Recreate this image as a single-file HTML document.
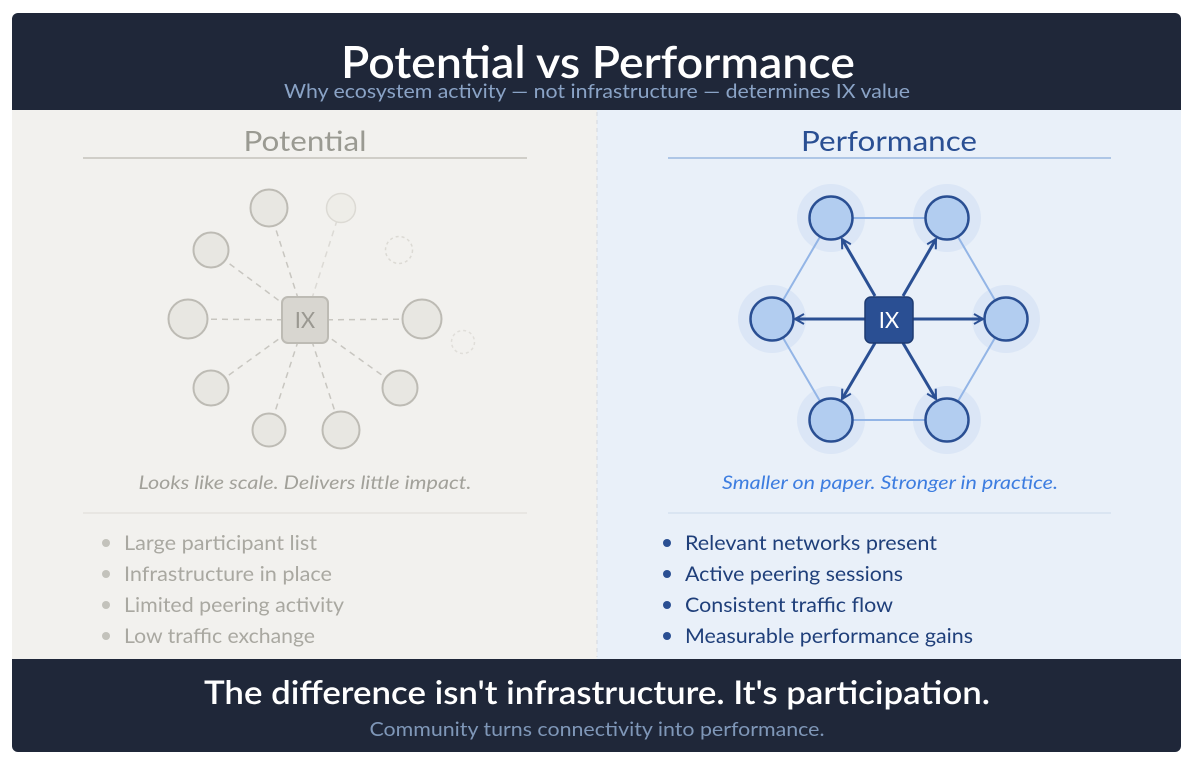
<!DOCTYPE html>
<html><head><meta charset="utf-8"><style>
html,body{margin:0;padding:0;background:#fff;}
svg{display:block;font-family:"Lato","Liberation Sans",sans-serif;}
</style></head><body>
<svg width="1200" height="769" viewBox="0 0 1200 769" xmlns="http://www.w3.org/2000/svg">
<defs>
<clipPath id="fr"><rect x="12" y="13" width="1169" height="739" rx="6"/></clipPath>
<marker id="ar" viewBox="0 0 12 12" refX="10" refY="6" markerWidth="12" markerHeight="12" markerUnits="userSpaceOnUse" orient="auto"><path d="M1,1 L10,6 L1,11" fill="none" stroke="#2a4f93" stroke-width="2"/></marker>
</defs>
<g clip-path="url(#fr)">
<rect x="12" y="13" width="1169" height="739" fill="#1f2739"/>
<rect x="12" y="110" width="585" height="549" fill="#f2f1ee"/>
<rect x="597" y="110" width="584" height="549" fill="#e9f0f9"/>
</g>
<line x1="597" y1="112" x2="597" y2="657" stroke="#d4d8de" stroke-dasharray="4,4"/>
<text x="598" y="78" text-anchor="middle" font-size="44" font-weight="600" fill="#fff" textLength="514" lengthAdjust="spacingAndGlyphs">Potential vs Performance</text>
<text x="597" y="98" text-anchor="middle" font-size="19" fill="#8aa3c6" textLength="626" lengthAdjust="spacingAndGlyphs">Why ecosystem activity — not infrastructure — determines IX value</text>

<text x="305" y="151" text-anchor="middle" font-size="28" fill="#9a9a92" textLength="123" lengthAdjust="spacingAndGlyphs">Potential</text>
<line x1="83" y1="158" x2="527" y2="158" stroke="#c4c2bb" stroke-width="1.5"/>
<text x="889" y="151" text-anchor="middle" font-size="28" fill="#2a4f93" textLength="176" lengthAdjust="spacingAndGlyphs">Performance</text>
<line x1="668" y1="158" x2="1111" y2="158" stroke="#9bb7e0" stroke-width="1.5"/>

<g stroke="#c8c6c0" stroke-width="1.5" stroke-dasharray="6,5" fill="none">
<line x1="305" y1="320" x2="269" y2="208"/>
<line x1="305" y1="320" x2="341" y2="208" stroke="#dcdad5"/>
<line x1="305" y1="320" x2="211" y2="250"/>
<line x1="305" y1="320" x2="188" y2="319"/>
<line x1="305" y1="320" x2="422" y2="319"/>
<line x1="305" y1="320" x2="211" y2="388"/>
<line x1="305" y1="320" x2="400" y2="388"/>
<line x1="305" y1="320" x2="269" y2="430"/>
<line x1="305" y1="320" x2="341" y2="430"/>
</g>
<g fill="#e8e7e2" stroke="#bdbbb4" stroke-width="2">
<circle cx="269" cy="208" r="18.5"/>
<circle cx="211" cy="250" r="17.5"/>
<circle cx="188" cy="319" r="19.5"/>
<circle cx="422" cy="319" r="19.5"/>
<circle cx="211" cy="388" r="17.5"/>
<circle cx="400" cy="388" r="17.5"/>
<circle cx="269" cy="430" r="16.5"/>
<circle cx="341" cy="430" r="18.5"/>
</g>
<circle cx="341" cy="208" r="14.5" fill="#eeede8" stroke="#dcdad4" stroke-width="1.5"/>
<circle cx="399" cy="250" r="13.5" fill="none" stroke="#dcdad4" stroke-width="1.5" stroke-dasharray="3,3"/>
<circle cx="463" cy="342" r="11.5" fill="none" stroke="#e0ded9" stroke-width="1.5" stroke-dasharray="3,3"/>
<rect x="282" y="297" width="46" height="46" rx="6" fill="#d8d6d0" stroke="#bdbbb4" stroke-width="2"/>
<text x="305" y="328" text-anchor="middle" font-size="22" fill="#9a9891">IX</text>

<g fill="#dbe6f6">
<circle cx="831" cy="218" r="34"/><circle cx="947" cy="218" r="34"/>
<circle cx="772" cy="319" r="34"/><circle cx="1006" cy="319" r="34"/>
<circle cx="831" cy="420" r="34"/><circle cx="947" cy="420" r="34"/>
</g>
<g stroke="#93b5e6" stroke-width="2">
<line x1="831" y1="218" x2="947" y2="218"/><line x1="947" y1="218" x2="1006" y2="319"/>
<line x1="1006" y1="319" x2="947" y2="420"/><line x1="947" y1="420" x2="831" y2="420"/>
<line x1="831" y1="420" x2="772" y2="319"/><line x1="772" y1="319" x2="831" y2="218"/>
</g>
<g stroke="#2a4f93" stroke-width="3" marker-end="url(#ar)">
<line x1="875" y1="296" x2="842" y2="239"/>
<line x1="903" y1="296" x2="936" y2="239"/>
<line x1="865" y1="319" x2="795" y2="319"/>
<line x1="913" y1="319" x2="983" y2="319"/>
<line x1="875" y1="343" x2="842" y2="399"/>
<line x1="903" y1="343" x2="936" y2="399"/>
</g>
<g fill="#b2cdf0" stroke="#2a4f93" stroke-width="2.5">
<circle cx="831" cy="218" r="21.5"/><circle cx="947" cy="218" r="21.5"/>
<circle cx="772" cy="319" r="21.5"/><circle cx="1006" cy="319" r="21.5"/>
<circle cx="831" cy="420" r="21.5"/><circle cx="947" cy="420" r="21.5"/>
</g>
<rect x="865" y="297" width="48" height="46" rx="6" fill="#2a4f93" stroke="#1e3b72" stroke-width="1.5"/>
<text x="889" y="328" text-anchor="middle" font-size="22" fill="#fff">IX</text>

<text x="305" y="489" text-anchor="middle" font-size="18" font-style="italic" fill="#a2a19a" textLength="333" lengthAdjust="spacingAndGlyphs">Looks like scale. Delivers little impact.</text>
<text x="890" y="489" text-anchor="middle" font-size="18" font-style="italic" fill="#3d7de0" textLength="336" lengthAdjust="spacingAndGlyphs">Smaller on paper. Stronger in practice.</text>
<line x1="83" y1="513" x2="527" y2="513" stroke="#e4e2dd" stroke-width="1.5"/>
<line x1="668" y1="513" x2="1111" y2="513" stroke="#d6e1f0" stroke-width="1.5"/>

<g fill="#c3c2bb"><circle cx="106" cy="543" r="4"/><circle cx="106" cy="574" r="4"/><circle cx="106" cy="605" r="4"/><circle cx="106" cy="636" r="4"/></g>
<g font-size="20" fill="#a9a8a1">
<text x="124" y="550" textLength="193" lengthAdjust="spacingAndGlyphs">Large participant list</text>
<text x="124" y="581" textLength="208" lengthAdjust="spacingAndGlyphs">Infrastructure in place</text>
<text x="124" y="612" textLength="220" lengthAdjust="spacingAndGlyphs">Limited peering activity</text>
<text x="124" y="643" textLength="191" lengthAdjust="spacingAndGlyphs">Low traffic exchange</text>
</g>
<g fill="#2a4f93"><circle cx="667" cy="543" r="4"/><circle cx="667" cy="574" r="4"/><circle cx="667" cy="605" r="4"/><circle cx="667" cy="636" r="4"/></g>
<g font-size="20" fill="#1f3f7a">
<text x="685" y="550" textLength="252" lengthAdjust="spacingAndGlyphs">Relevant networks present</text>
<text x="685" y="581" textLength="218" lengthAdjust="spacingAndGlyphs">Active peering sessions</text>
<text x="685" y="612" textLength="208" lengthAdjust="spacingAndGlyphs">Consistent traffic flow</text>
<text x="685" y="643" textLength="288" lengthAdjust="spacingAndGlyphs">Measurable performance gains</text>
</g>

<text x="597" y="704" text-anchor="middle" font-size="33" font-weight="600" fill="#fff" textLength="786" lengthAdjust="spacingAndGlyphs">The difference isn't infrastructure. It's participation.</text>
<text x="597" y="736" text-anchor="middle" font-size="19" fill="#7f97b8" textLength="455" lengthAdjust="spacingAndGlyphs">Community turns connectivity into performance.</text>
</svg>
</body></html>
